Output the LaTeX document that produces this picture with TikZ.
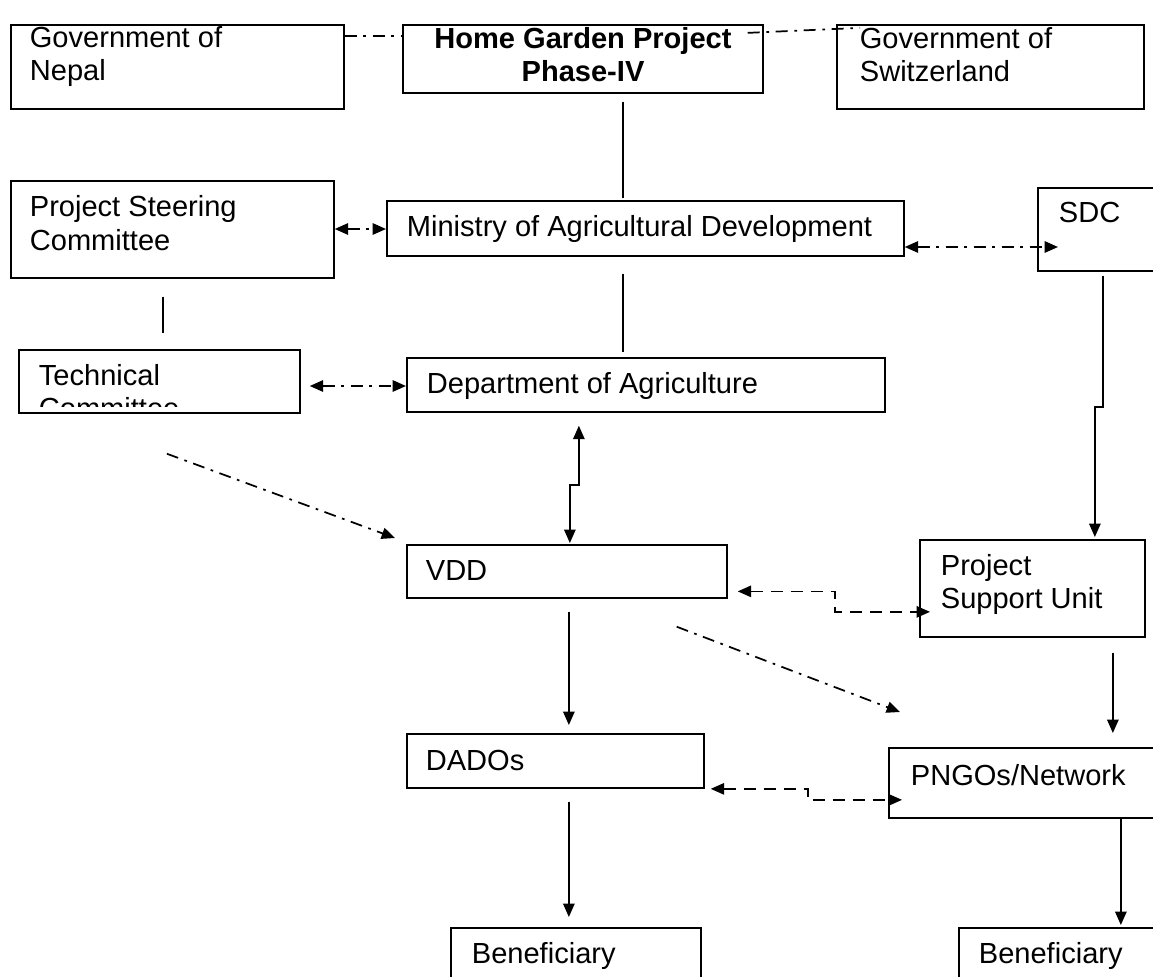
\documentclass[tikz,border=0pt]{standalone}
\usepackage{fontspec}
\setmainfont{Liberation Sans}
\usetikzlibrary{arrows.meta,calc}

\tikzset{
	box/.style={draw, line width=1.3pt, anchor=north west, inner sep=0pt},
	txt/.style={font=\fontsize{21.8}{24.75}\selectfont, align=left, inner sep=0pt, anchor=base west},
	dashdot/.style={dash pattern=on 9pt off 5pt on 2pt off 5pt},
	dashline/.style={dash pattern=on 9pt off 6pt},
	arr/.style={-{Triangle[length=10pt,width=8.5pt]}},
	both/.style={{Triangle[length=10pt,width=8.5pt]}-{Triangle[length=10pt,width=8.5pt]}}
}

\begin{document}
\begin{tikzpicture}[x=0.75pt,y=0.75pt,yscale=-1,xscale=1,line width=1.3pt]
		\clip (0,0) rectangle (1153,977);
		
		%boxes
		\node [box, minimum width=249.75pt, minimum height=63pt] (nepal) at (10,24) {};
		\node [box, minimum width=270pt, minimum height=51pt] (hg) at (402,24) {};
		\node [box, minimum width=230.25pt, minimum height=63pt] (swiss) at (836,24) {};
		\node [box, minimum width=242.25pt, minimum height=72.75pt] (psc) at (10,180) {};
		\node [box, minimum width=387.75pt, minimum height=41.25pt] (mod) at (386,200) {};
		\node [box, minimum width=92.25pt, minimum height=62.25pt] (sdc) at (1037,187) {};
		\node [box, minimum width=210.75pt, minimum height=47.25pt] (tc) at (18,349) {};
		\node [box, minimum width=358.5pt, minimum height=40.5pt] (doa) at (406,357) {};
		\node [box, minimum width=240pt, minimum height=39.75pt] (vdd) at (406,544) {};
		\node [box, minimum width=168.75pt, minimum height=72.75pt] (psu) at (919,539) {};
		\node [box, minimum width=222.75pt, minimum height=40.5pt] (dados) at (406,733) {};
		\node [box, minimum width=204pt, minimum height=52.5pt] (pngo) at (888,747) {};
		\node [box, minimum width=187.5pt, minimum height=45pt] (benl) at (450,927) {};
		\node [box, minimum width=151.5pt, minimum height=45pt] (benr) at (958,927) {};
		
		%texts (base = last line)
		\draw (29,81) node [txt] (nepaltext) {Government of\\Nepal};
		\draw (583,82) node [txt, anchor=base, align=center, font=\fontsize{21.8}{24.75}\selectfont\bfseries] (hgtext) {Home Garden Project\\Phase-IV};
		\draw (859,82) node [txt] (swisstext) {Government of\\Switzerland};
		\draw (29,250) node [txt] (psctext) {Project Steering\\Committee};
		\draw (406,237) node [txt] (modtext) {Ministry of Agricultural Development};
		\draw (1058,223) node [txt] (sdctext) {SDC};
		\begin{scope}
			\clip (18,349) rectangle (299,406);
			\draw (38,418) node [txt] (tctext) {Technical\\Committee};
		\end{scope}
		\draw (426,393) node [txt] (doatext) {Department of Agriculture};
		\draw (425,580) node [txt] (vddtext) {VDD};
		\draw (940,608) node [txt] (psutext) {Project\\Support Unit};
		\draw (425,770) node [txt] (dadostext) {DADOs};
		\draw (910,785) node [txt] (pngotext) {PNGOs/Network};
		\draw (471,963) node [txt] (benltext) {Beneficiary};
		\draw (978,963) node [txt] (benrtext) {Beneficiary};
		
		%connectors
		\draw [dashdot] (nepal.east |- 0,36) -- (hg.west |- 0,36);
		\draw [dashdot] ($(hg.east)+(-16,-26)$) -- ($(swiss.west)+(24,-39)$);
		\draw ($(hg.south)+(40,8)$) -- ($(mod.north)+(-22.5,-2)$);
		\draw [both, dashdot] (psc.east |- 0,229) -- (mod.west |- 0,229);
		\draw [both, dashdot] (mod.east |- 0,247) -- ($(sdc.west |- 0,247)+(21,0)$);
		\draw ($(mod.south)+(-22.5,17)$) -- ($(doa.north)+(-23,-5)$);
		\draw ($(psc.south)+(-9.5,18)$) -- ($(tc.north)+(3.5,-16)$);
		\draw [both, dashdot] ($(tc.east |- 0,386)+(9,0)$) -- (doa.west |- 0,386);
		\draw [arr, dashdot] ($(tc.south)+(7.5,40)$) -- ($(vdd.north west)+(-11,-6)$);
		\draw [both] ($(doa.south)+(-67,13)$) -- ++(0,59) -| ($(vdd.north)+(3,-1)$);
		\draw [arr] ($(sdc.south west)+(66,4)$) -- ++(0,131) -| ($(psu.north)+(62.5,-2)$);
		\draw [both, dashline] ($(vdd.east)+(10,20)$) -- ++(97,0) |- ($(psu.west)+(11,23.5)$);
		\draw [arr, dashdot] ($(vdd.south east)+(-51,28)$) -- ($(pngo.north west)+(12,-35)$);
		\draw [arr] ($(vdd.south)+(2,13)$) -- ($(dados.north)+(13.5,-8)$);
		\draw [arr] ($(psu.south)+(80.5,15)$) -- ($(pngo.north)+(88,-14)$);
		\draw [both, dashline] ($(dados.east)+(6,28)$) -- ++(97,0) |- ($(pngo.west)+(14,17)$);
		\draw [arr] ($(dados.south)+(13.5,13)$) -- ($(benl.north)+(-7,-10)$);
		\draw [arr] ($(pngo.south)+(96,0)$) -- ($(benr.north)+(61,-2)$);
		
\end{tikzpicture}
\end{document}
